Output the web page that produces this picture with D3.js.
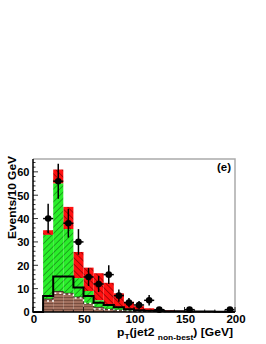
<!DOCTYPE html>
<html>
<head>
  <meta charset="utf-8" />
  <script src="https://d3js.org/d3.v7.min.js"></script>
  <style>
    body { margin: 0; background: #fff; }
    text { font-family: "Liberation Sans", Arial, sans-serif; font-weight: bold; }
  </style>
</head>
<body>
  <svg id="chart" width="266" height="344"></svg>
  <script>
    // bin lower edges (GeV), 10 GeV wide
    const binEdges = d3.range(0, 200, 10);
    // stacked backgrounds (per bin contributions)
    const brownVals = [0, 5.5, 8.8, 8, 6.4, 3.5, 2, 1.2, 0.8, 0.5, 0.3, 0.2, 0.2, 0.1, 0.1, 0.1, 0.1, 0, 0, 0];
    const greenVals = [0, 27.5, 46.2, 27.5, 8.1, 5.5, 3, 1.6, 1.0, 0.7, 0.5, 0.3, 0.2, 0.2, 0.1, 0.1, 0.1, 0.1, 0.1, 0.1];
    const redVals = [0, 2, 6, 9.5, 11.2, 10, 11.6, 9.7, 6.2, 3.2, 1.7, 1.1, 0.6, 0.4, 0.3, 0.2, 0.1, 0.2, 0.1, 0.1];
    // overlay lines
    const blackLine = [0, 6.8, 15.2, 15.2, 10.5, 6.8, 4, 3, 2, 1.2, 0.8, 0.5, 0.4, 0.3, 0.3, 0.2, 0.2, 0.2, 0.1, 0.1];
    const whiteLine = [0, 4.7, 8, 7.6, 6, 3.7, 1.3, 1, 0.6, 0.4, 0.3, 0.2, 0.2, 0.1, 0.1, 0.1, 0.1, 0, 0, 0];
    // data counts per bin
    const dataCounts = [0, 40, 56, 38, 30, 15, 12, 16, 7, 4, 3, 5, 1, 0, 0, 1, 0, 0, 0, 1];

    const xTicks = [0, 50, 100, 150, 200];
    const yTicks = [0, 10, 20, 30, 40, 50, 60];

    const svg = d3.select("#chart");
    const mLeft = 33, mRight = 235, mTop = 159, mBottom = 312;

    const x = d3.scaleLinear().domain([0, 200]).range([mLeft, mRight]);
    const y = d3.scaleLinear().domain([0, 65.5]).range([mBottom, mTop]);

    const defs = svg.append("defs");
    function hatch(id, fill, stroke, angle, size, sw) {
      const p = defs.append("pattern")
        .attr("id", id).attr("patternUnits", "userSpaceOnUse")
        .attr("width", size).attr("height", size)
        .attr("patternTransform", "rotate(" + angle + ")");
      p.append("rect").attr("width", size).attr("height", size).attr("fill", fill);
      p.append("line").attr("x1", 0).attr("y1", 0).attr("x2", 0).attr("y2", size)
        .attr("stroke", stroke).attr("stroke-width", sw);
    }
    hatch("greenHatch", "#2aee2a", "#0d5a0d", 45, 4.5, 1);
    hatch("redHatch", "#ff1010", "#7a0000", -45, 4.5, 1.3);
    hatch("brownHatch", "#a2705e", "#4e2c22", 90, 3, 1);

    const rows = binEdges.map((e, i) => ({ x0: e, brown: brownVals[i], green: greenVals[i], red: redVals[i] }));
    const stack = d3.stack().keys(["brown", "green", "red"]);
    const layers = stack(rows);
    const fills = { brown: "url(#brownHatch)", green: "url(#greenHatch)", red: "url(#redHatch)" };

    const plot = svg.append("g");
    layers.slice().reverse().forEach(layer => {
      plot.append("g").selectAll("rect")
        .data(layer.filter(d => d[1] - d[0] > 0))
        .join("rect")
        .attr("x", d => x(d.data.x0))
        .attr("width", d => x(d.data.x0 + 10) - x(d.data.x0))
        .attr("y", d => y(d[1]))
        .attr("height", d => y(d[0]) - y(d[1]))
        .attr("fill", fills[layer.key]);
    });

    // step outline helper
    function stepPath(vals) {
      const pts = [[x(0), y(0)]];
      vals.forEach((v, i) => {
        pts.push([x(binEdges[i]), y(v)]);
        pts.push([x(binEdges[i] + 10), y(v)]);
      });
      pts.push([x(200), y(0)]);
      return d3.line()(pts);
    }

    // brown outline
    const brownTop = layers[0].map(d => d[1]);
    plot.append("path").attr("d", stepPath(brownTop))
      .attr("fill", "none").attr("stroke", "#2a1a14").attr("stroke-width", 0.8);

    plot.append("path").attr("d", stepPath(whiteLine))
      .attr("fill", "none").attr("stroke", "#fff").attr("stroke-width", 1.5)
      .attr("stroke-dasharray", "2,3");

    plot.append("path").attr("d", stepPath(blackLine))
      .attr("fill", "none").attr("stroke", "#000").attr("stroke-width", 2);

    // data points with errors
    const pts = dataCounts.map((c, i) => ({ c: binEdges[i] + 5, n: c })).filter(d => d.n > 0);
    const dp = plot.append("g");
    dp.selectAll("line.ey").data(pts).join("line")
      .attr("x1", d => x(d.c)).attr("x2", d => x(d.c))
      .attr("y1", d => y(d.n + Math.sqrt(d.n))).attr("y2", d => y(Math.max(0, d.n - Math.sqrt(d.n))))
      .attr("stroke", "#000").attr("stroke-width", 1.5);
    dp.selectAll("line.ex").data(pts).join("line")
      .attr("x1", d => x(d.c - 5)).attr("x2", d => x(d.c + 5))
      .attr("y1", d => y(d.n)).attr("y2", d => y(d.n))
      .attr("stroke", "#000").attr("stroke-width", 1.5);
    dp.selectAll("circle").data(pts).join("circle")
      .attr("cx", d => x(d.c)).attr("cy", d => y(d.n)).attr("r", 3.3).attr("fill", "#000");

    // frame
    svg.append("path")
      .attr("d", `M${mLeft},${mTop}H${mRight}V${mBottom}`)
      .attr("fill", "none").attr("stroke", "#aaa").attr("stroke-width", 1.5);
    svg.append("path")
      .attr("d", `M${mLeft},${mTop}V${mBottom}H${mRight}`)
      .attr("fill", "none").attr("stroke", "#000").attr("stroke-width", 1.5);

    // y ticks (inside)
    const yMinor = d3.range(0, 66, 2);
    svg.append("g").selectAll("line").data(yMinor).join("line")
      .attr("x1", mLeft).attr("x2", d => mLeft + (d % 10 === 0 ? 5 : 2.5))
      .attr("y1", d => y(d)).attr("y2", d => y(d))
      .attr("stroke", "#000").attr("stroke-width", 0.8);
    svg.append("g").selectAll("text").data(yTicks).join("text")
      .attr("x", 29.5).attr("y", d => y(d) + 4.3)
      .attr("text-anchor", "end").attr("font-size", 11)
      .text(d => d);

    // x ticks (inside)
    const xMinor = d3.range(0, 201, 10);
    svg.append("g").selectAll("line").data(xMinor).join("line")
      .attr("x1", d => x(d)).attr("x2", d => x(d))
      .attr("y1", mBottom).attr("y2", d => mBottom - (d % 50 === 0 ? 5 : 2.5))
      .attr("stroke", "#000").attr("stroke-width", 0.8);
    svg.append("g").selectAll("text").data(xTicks).join("text")
      .attr("x", d => x(d) + 1).attr("y", 322.5)
      .attr("text-anchor", "middle").attr("font-size", 11.5)
      .text(d => d);

    // axis titles
    svg.append("text")
      .attr("transform", "translate(16,156) rotate(-90)")
      .attr("text-anchor", "end").attr("font-size", 11)
      .attr("textLength", 83).attr("lengthAdjust", "spacingAndGlyphs")
      .text("Events/10 GeV");

    const xl = svg.append("text").attr("x", 117).attr("y", 335.5)
      .attr("font-size", 11.5)
      .attr("textLength", 116).attr("lengthAdjust", "spacingAndGlyphs");
    xl.append("tspan").text("p");
    xl.append("tspan").attr("font-size", 8).attr("dy", 3).text("T");
    xl.append("tspan").attr("dy", -3).text("(jet2 ");
    xl.append("tspan").attr("font-size", 8).attr("dy", 4.5).text("non-best");
    xl.append("tspan").attr("dy", -4.5).text(") [GeV]");

    svg.append("text").attr("x", 231).attr("y", 171)
      .attr("text-anchor", "end").attr("font-size", 11.5)
      .text("(e)");
  </script>
</body>
</html>
